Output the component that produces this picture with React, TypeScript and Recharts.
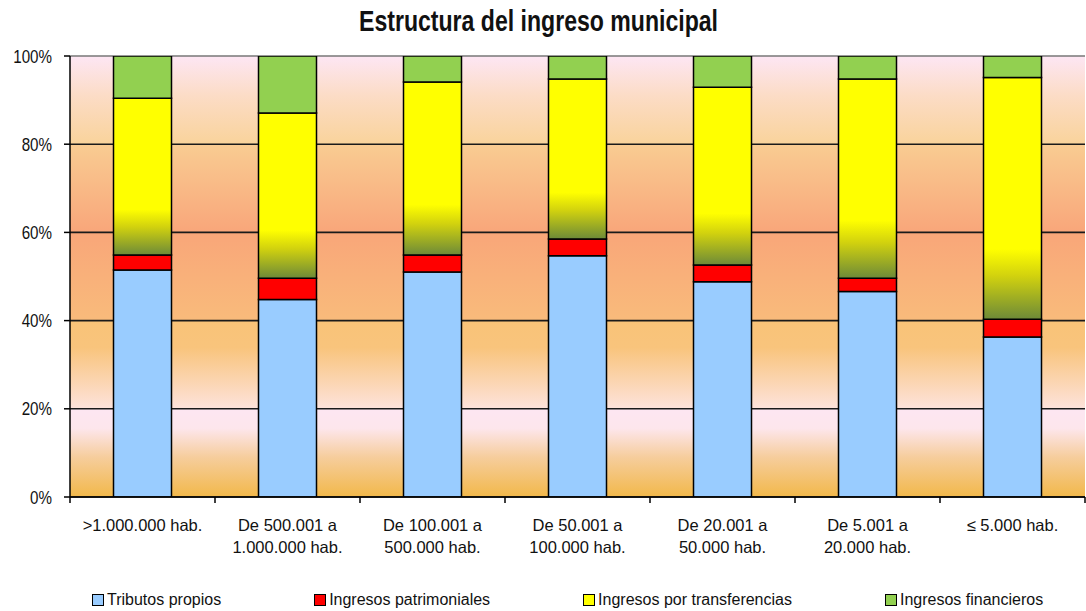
import React from 'react';
import { BarChart, Bar, XAxis, YAxis, CartesianGrid, Legend } from 'recharts';

const categories = [
  '>1.000.000 hab.',
  'De 500.001 a\n1.000.000 hab.',
  'De 100.001 a\n500.000 hab.',
  'De 50.001 a\n100.000 hab.',
  'De 20.001 a\n50.000 hab.',
  'De 5.001 a\n20.000 hab.',
  '≤ 5.000 hab.',
];
const tributosPropios = [51.5, 44.8, 51.0, 54.7, 48.8, 46.6, 36.3];
const ingresosPatrimoniales = [3.4, 4.8, 3.9, 3.8, 3.8, 3.0, 4.0];
const ingresosTransferencias = [35.5, 37.5, 39.2, 36.3, 40.3, 45.2, 54.8];
const ingresosFinancieros = [9.6, 12.9, 5.9, 5.2, 7.1, 5.2, 4.9];
const yTicks = [0, 20, 40, 60, 80, 100];
const seriesKeys = ['tributos', 'patrimoniales', 'transferencias', 'financieros'];
const seriesNames = [
  'Tributos propios',
  'Ingresos patrimoniales',
  'Ingresos por transferencias',
  'Ingresos financieros',
];
const seriesColors = ['#99ccff', '#ff0000', '#ffff00', '#92d050'];
const barFills = ['#99ccff', '#ff0000', 'url(#yellowGrad)', '#92d050'];
const title = 'Estructura del ingreso municipal';

const data = categories.map((c, i) => ({
  name: c,
  tributos: tributosPropios[i],
  patrimoniales: ingresosPatrimoniales[i],
  transferencias: ingresosTransferencias[i],
  financieros: ingresosFinancieros[i],
}));

const W = 1086;
const H = 611;
const MARGIN = { top: 56, right: 1, left: 0, bottom: 0 };
const TICK_SIZE = 6;
const TEXT = '#111';
const FONT = "'Liberation Sans', Arial, sans-serif";

const XTick = (props: any) => {
  const { x, y, payload, index } = props;
  const off = payload && typeof payload.offset === 'number' ? payload.offset : 72.5;
  const axisY = y - TICK_SIZE;
  const lines = String(payload.value).split('\n');
  return (
    <g>
      {index === 0 && (
        <line x1={x - off} x2={x - off} y1={axisY} y2={axisY + TICK_SIZE} stroke="#000" strokeWidth={1.5} />
      )}
      <line x1={x + off} x2={x + off} y1={axisY} y2={axisY + TICK_SIZE} stroke="#000" strokeWidth={1.5} />
      <text x={x} y={axisY + 34} textAnchor="middle" fill={TEXT} fontSize={16.5} fontFamily={FONT}>
        {lines.map((l, i) => (
          <tspan key={i} x={x} dy={i === 0 ? 0 : 22}>
            {l}
          </tspan>
        ))}
      </text>
    </g>
  );
};

const Y_FONT = 18.5;
const YTick = (props: any) => {
  const { x, y, payload } = props;
  const label = payload.value + '%';
  const digits = String(payload.value).length;
  const len = (digits * 0.556 + 0.889) * Y_FONT * 0.82;
  return (
    <text x={x} y={y} dy={6.5} textAnchor="end" fill={TEXT} fontSize={Y_FONT}
      fontFamily={FONT} textLength={len} lengthAdjust="spacingAndGlyphs">
      {label}
    </text>
  );
};

const GridLine = (p: any) => (
  <line
    key={p.key}
    x1={p.x1}
    x2={p.x2}
    y1={p.y1}
    y2={p.y2}
    stroke={Math.abs(p.y1 - MARGIN.top) < 1 ? '#777' : '#1a1a1a'}
    strokeWidth={1.6}
  />
);

const LegendContent = () => (
  <div
    style={{
      display: 'flex',
      gap: 93,
      paddingLeft: 92,
      height: 22,
      alignItems: 'center',
      fontFamily: FONT,
      fontSize: 16,
      color: TEXT,
      whiteSpace: 'nowrap',
    }}
  >
    {seriesNames.map((n, i) => (
      <div key={n} style={{ display: 'flex', alignItems: 'center' }}>
        <span
          style={{
            display: 'inline-block',
            width: 10,
            height: 10,
            background: seriesColors[i],
            border: '1px solid #000',
            marginRight: 3,
          }}
        />
        <span>{n}</span>
      </div>
    ))}
  </div>
);

export default function App() {
  return (
    <div style={{ position: 'absolute', left: 0, top: 0, width: W, height: H, background: '#fff' }}>
      <svg width={0} height={0} style={{ position: 'absolute' }}>
        <defs>
          <linearGradient id="yellowGrad" x1="0" y1="0" x2="0" y2="1">
            <stop offset="0" stopColor="#ffff00" />
            <stop offset="0.71" stopColor="#ffff00" />
            <stop offset="0.82" stopColor="#d2d20e" />
            <stop offset="1" stopColor="#6d8a38" />
          </linearGradient>
          <linearGradient id="bg1" x1="0" y1="0" x2="0" y2="1">
            <stop offset="0" stopColor="#fde6f4" />
            <stop offset="0.45" stopColor="#fcdcc6" />
            <stop offset="1" stopColor="#f9d39b" />
          </linearGradient>
          <linearGradient id="bg2" x1="0" y1="0" x2="0" y2="1">
            <stop offset="0" stopColor="#f9cc92" />
            <stop offset="1" stopColor="#f9a67a" />
          </linearGradient>
          <linearGradient id="bg3" x1="0" y1="0" x2="0" y2="1">
            <stop offset="0" stopColor="#f9a679" />
            <stop offset="1" stopColor="#f9bb7b" />
          </linearGradient>
          <linearGradient id="bg4" x1="0" y1="0" x2="0" y2="1">
            <stop offset="0" stopColor="#f9c378" />
            <stop offset="0.3" stopColor="#f9c47c" />
            <stop offset="1" stopColor="#fde3dc" />
          </linearGradient>
          <linearGradient id="bg5" x1="0" y1="0" x2="0" y2="1">
            <stop offset="0" stopColor="#fde6f2" />
            <stop offset="0.22" stopColor="#fde6ec" />
            <stop offset="0.55" stopColor="#f6cd9c" />
            <stop offset="1" stopColor="#f2b84a" />
          </linearGradient>
        </defs>
      </svg>
      <svg width={W} height={50} style={{ position: 'absolute', left: 0, top: 0 }}>
        <text
          x={538.5}
          y={31}
          textAnchor="middle"
          fontSize={29}
          fontWeight="bold"
          fill={TEXT}
          fontFamily={FONT}
          textLength={359}
          lengthAdjust="spacingAndGlyphs"
        >
          {title}
        </text>
      </svg>
      <div style={{ position: 'absolute', left: 0, top: 0 }}>
        <BarChart width={W} height={H} data={data} margin={MARGIN} barCategoryGap="30%">
          <CartesianGrid
            vertical={false}
            horizontal={GridLine}
            horizontalFill={['url(#bg1)', 'url(#bg2)', 'url(#bg3)', 'url(#bg4)', 'url(#bg5)']}
            fillOpacity={1}
          />
          <XAxis
            dataKey="name"
            interval={0}
            tickLine={false}
            tickSize={TICK_SIZE}
            tickMargin={0}
            height={92}
            axisLine={{ stroke: '#000', strokeWidth: 1.5 }}
            tick={<XTick />}
          />
          <YAxis
            width={70}
            domain={[0, 100]}
            ticks={yTicks}
            allowDataOverflow
            tickSize={6}
            tickMargin={12}
            axisLine={{ stroke: '#000', strokeWidth: 1.5 }}
            tickLine={{ stroke: '#000', strokeWidth: 1.5 }}
            tick={<YTick />}
          />
          <Legend verticalAlign="bottom" height={22} content={<LegendContent />} />
          {seriesKeys.map((k, i) => (
            <Bar
              key={k}
              dataKey={k}
              name={seriesNames[i]}
              stackId="a"
              fill={barFills[i]}
              stroke="#000"
              strokeWidth={1.5}
              isAnimationActive={false}
            />
          ))}
        </BarChart>
      </div>
    </div>
  );
}
